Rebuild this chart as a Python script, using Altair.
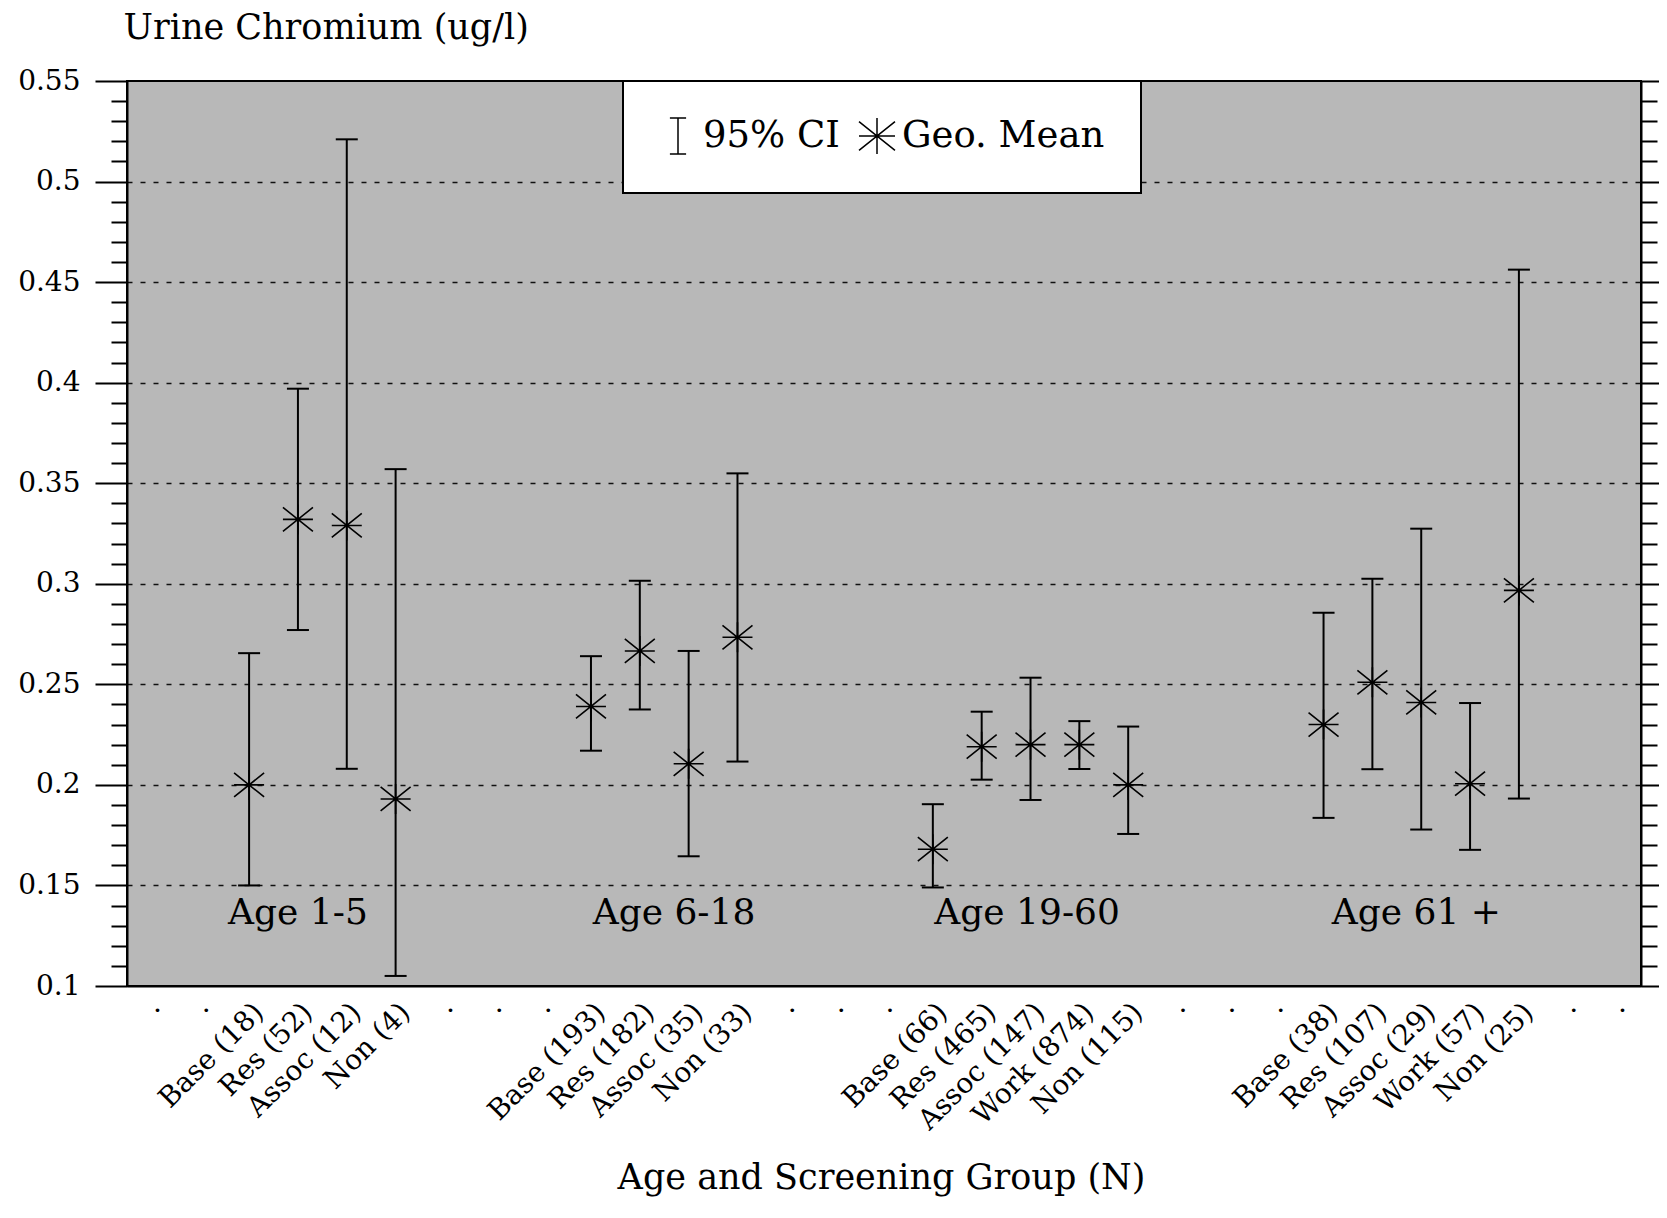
import altair as alt
import pandas as pd

# ---- data ----
group_names = ["Age 1-5", "Age 6-18", "Age 19-60", "Age 61 +"]
group_label_x = [1.0, 8.7, 15.93, 23.9]
group_label_y = [0.1365, 0.1365, 0.1365, 0.1365]

screen = ["Base", "Res", "Assoc", "Non",
          "Base", "Res", "Assoc", "Non",
          "Base", "Res", "Assoc", "Work", "Non",
          "Base", "Res", "Assoc", "Work", "Non"]
n_counts = [18, 52, 12, 4,
            193, 182, 35, 33,
            66, 465, 147, 874, 115,
            38, 107, 29, 57, 25]
slots = [0, 1, 2, 3,
         7, 8, 9, 10,
         14, 15, 16, 17, 18,
         22, 23, 24, 25, 26]
geo_mean = [0.200, 0.332, 0.329, 0.193,
            0.239, 0.2666, 0.2105, 0.2734,
            0.168, 0.219, 0.220, 0.220, 0.200,
            0.230, 0.251, 0.241, 0.2006, 0.2967]
ci_low = [0.150, 0.277, 0.208, 0.105,
          0.217, 0.2375, 0.1645, 0.2116,
          0.149, 0.2026, 0.1925, 0.2079, 0.1756,
          0.1836, 0.2078, 0.1778, 0.1677, 0.1932]
ci_high = [0.2655, 0.397, 0.521, 0.357,
           0.264, 0.3015, 0.2666, 0.3549,
           0.1904, 0.2364, 0.2533, 0.2317, 0.229,
           0.2856, 0.3025, 0.3274, 0.2407, 0.4562]

slot_range = list(range(-2, 29))
empty_label = "\u00b7"
y_ticks = [round(0.10 + 0.01 * i, 2) for i in range(46)]
legend_items = ["95% CI", "Geo. Mean"]

FONT = "DejaVu Serif"

df = pd.DataFrame({
    "slot": slots,
    "label": [f"{s} ({n})" for s, n in zip(screen, n_counts)],
    "mean": geo_mean,
    "lo": ci_low,
    "hi": ci_high,
    "kind": ["Geo. Mean"] * len(slots),
})
groups = pd.DataFrame({"x": group_label_x, "y": group_label_y, "text": group_names})

lookup = dict(zip(slots, df["label"]))
label_array = [lookup.get(v, empty_label) for v in slot_range]
label_expr = "[" + ",".join("'" + t + "'" for t in label_array) + "][datum.value + 2]"

major = "abs(datum.value*20 - round(datum.value*20)) < 0.001"

xs = alt.Scale(domain=[-2.5, 28.5], nice=False, zero=False)
ys = alt.Scale(domain=[0.1, 0.55], nice=False, zero=False)

ibeam = "M-0.45,-1H0.45M0,-1V1M-0.45,1H0.45"
asterisk = "M-1,0H1M0,-1V1M-1,-0.8L1,0.8M-1,0.8L1,-0.8"

tick_size = {"condition": {"test": major, "value": 32}, "value": 16}

x_axis = alt.Axis(
    values=slot_range, labelExpr=label_expr, ticks=False, grid=False,
    domain=True, domainColor="black", domainWidth=2,
    labelAngle=-45, labelAlign="right", labelBaseline="top",
    labelPadding=12, labelOffset=0, labelFont=FONT, labelFontSize=28,
    labelColor="black", labelOverlap=False, labelFlush=False, labelBound=False,
    title="Age and Screening Group (N)", titleFont=FONT, titleFontSize=35,
    titleFontWeight="normal", titleColor="black", titleX=754, titleY=191,
    titleAlign="center", titleBaseline="middle",
)

y_axis_left = alt.Axis(
    values=y_ticks, orient="left",
    labelExpr=f"{major} ? format(datum.value, '~g') : ''",
    tickSize=tick_size, tickColor="black", tickWidth=2,
    grid=True, gridDash=[5, 8], gridColor="#111111", gridWidth=1.3,
    gridOpacity={"condition": {"test": f"{major} && datum.value > 0.11 && datum.value < 0.54", "value": 1}, "value": 0},
    domain=True, domainColor="black", domainWidth=2,
    labelFont=FONT, labelFontSize=28, labelColor="black", labelPadding=15,
    labelOverlap=False, labelFlush=False,
    title="Urine Chromium (ug/l)", titleAngle=0, titleX=-4, titleY=-54,
    titleAlign="left", titleBaseline="middle", titleFont=FONT, titleFontSize=35,
    titleFontWeight="normal", titleColor="black",
)

y_axis_right = alt.Axis(
    values=y_ticks, orient="right", labels=False, title=None,
    tickSize=tick_size, tickColor="black", tickWidth=2, grid=False,
    domain=True, domainColor="black", domainWidth=2,
)

legend = alt.Legend(
    orient="none", legendX=496, legendY=0, direction="horizontal", title=None,
    fillColor="white", strokeColor="black", padding=36, columnPadding=16,
    labelOffset=6, labelFont=FONT, labelFontSize=37, labelColor="black",
    labelLimit=0, symbolSize=1296, symbolStrokeWidth=1.5,
    symbolStrokeColor="black", symbolFillColor="transparent",
)

base = alt.Chart(df)

group_text = alt.Chart(groups).mark_text(
    font=FONT, fontSize=36, color="black", align="center", baseline="middle"
).encode(
    x=alt.X("x:Q", scale=xs, axis=None),
    y=alt.Y("y:Q", scale=ys, axis=None),
    text="text:N",
)

rules = base.mark_rule(color="black", strokeWidth=2).encode(
    x=alt.X("slot:Q", scale=xs, axis=x_axis),
    y=alt.Y("lo:Q", scale=ys, axis=y_axis_left),
    y2="hi:Q",
)

caps_lo = base.mark_tick(orient="horizontal", size=22, thickness=2, color="black", opacity=1).encode(
    x=alt.X("slot:Q", scale=xs, axis=None),
    y=alt.Y("lo:Q", scale=ys, axis=None),
)
caps_hi = base.mark_tick(orient="horizontal", size=22, thickness=2, color="black", opacity=1).encode(
    x=alt.X("slot:Q", scale=xs, axis=None),
    y=alt.Y("hi:Q", scale=ys, axis=None),
)

means = base.mark_point(size=900, strokeWidth=1.6, color="black", filled=False, opacity=1).encode(
    x=alt.X("slot:Q", scale=xs, axis=None),
    y=alt.Y("mean:Q", scale=ys, axis=y_axis_right),
    shape=alt.Shape("kind:N", scale=alt.Scale(domain=legend_items, range=[ibeam, asterisk]), legend=legend),
)

chart = alt.layer(group_text, rules, caps_lo, caps_hi, means).resolve_axis(
    x="independent", y="independent"
).properties(
    width=1514, height=905,
    autosize=alt.AutoSizeParams(type="none"),
    padding={"left": 119, "top": 73, "right": 18, "bottom": 216},
    background="white",
).configure_view(
    fill="#b8b8b8", stroke="black", strokeWidth=2
).configure_legend(strokeWidth=2)

chart.save("out.html", embed_options={"renderer": "svg", "actions": False})
